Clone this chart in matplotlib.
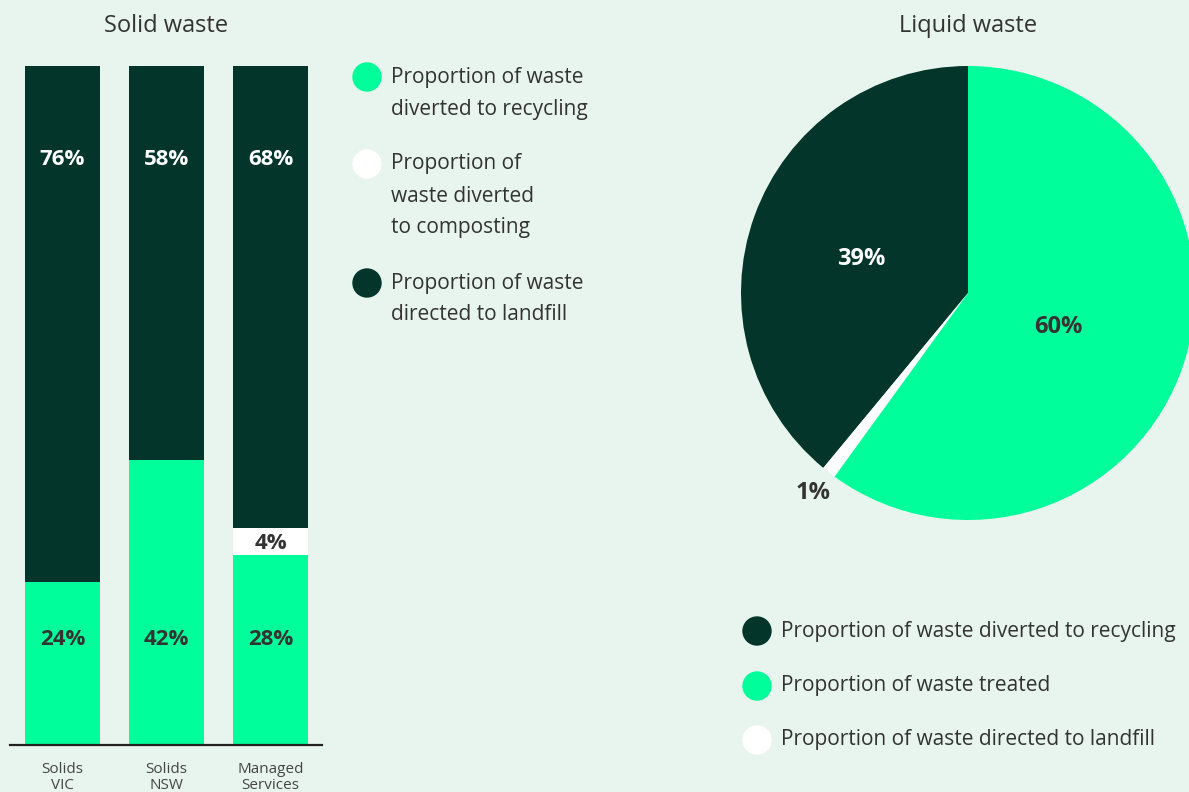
import matplotlib.pyplot as plt
from matplotlib.patches import Circle

# data
bar_cats = ["Solids\nVIC", "Solids\nNSW", "Managed\nServices"]
recycling = [24, 42, 28]
composting = [0, 0, 4]
landfill = [76, 58, 68]

pie_vals = [39, 1, 60]   # recycling (dark), landfill (white), treated (green)
pie_legend = ["Proportion of waste diverted to recycling",
              "Proportion of waste treated",
              "Proportion of waste directed to landfill"]
bar_legend = ["Proportion of waste\ndiverted to recycling",
              "Proportion of\nwaste diverted\nto composting",
              "Proportion of waste\ndirected to landfill"]

BG = "#E8F5EE"
DARK = "#03352A"
GREEN = "#00FE9A"
WHITE = "#FFFFFF"
TXT = "#333333"

plt.rcParams['font.family'] = ['Open Sans', 'DejaVu Sans']

W, H = 1189, 792
fig = plt.figure(figsize=(W / 100, H / 100), dpi=100, facecolor=BG)

def px_axes(x0, y0, x1, y1):
    # pixel box (top-left origin) -> figure axes
    return fig.add_axes([x0 / W, 1 - y1 / H, (x1 - x0) / W, (y1 - y0) / H])

# ---- bar chart ----
ax = px_axes(10, 66, 322, 745)
ax.set_facecolor(BG)
x = range(len(bar_cats))
w = 0.721
ax.bar(x, recycling, w, color=GREEN)
ax.bar(x, composting, w, bottom=recycling, color=WHITE)
bot2 = [r + c for r, c in zip(recycling, composting)]
ax.bar(x, landfill, w, bottom=bot2, color=DARK)
ax.set_xlim(-0.505, 2.495)
ax.set_ylim(0, 100)
for s in ["top", "right", "left"]:
    ax.spines[s].set_visible(False)
ax.spines["bottom"].set_color("#222222")
ax.spines["bottom"].set_linewidth(1.6)
ax.set_yticks([])
ax.set_xticks(list(x))
ax.set_xticklabels(bar_cats, fontsize=11, color="#444444", linespacing=1.15)
ax.tick_params(axis="x", length=0, pad=12)
lab_kw = dict(ha="center", va="center", fontsize=16, fontweight="bold")
for i in x:
    ax.text(i, 86.2, f"{landfill[i]}%", color="white", **lab_kw)
    ax.text(i, 15.6, f"{recycling[i]}%", color=TXT, **lab_kw)
    if composting[i]:
        ax.text(i, recycling[i] + composting[i] / 2 - 0.3, f"{composting[i]}%",
                color=TXT, **lab_kw)

# ---- pie ----
cx, cy, r = 968, 293, 227
pax = px_axes(cx - r, cy - r, cx + r, cy + r)
pax.pie(pie_vals, colors=[DARK, WHITE, GREEN], startangle=90, counterclock=True,
        radius=1, wedgeprops=dict(linewidth=0))
pax.set_xlim(-1, 1)
pax.set_ylim(-1, 1)
pax.set_aspect("equal")
pax.axis("off")

# overlay in pixel coords for titles, labels and legends
ov = fig.add_axes([0, 0, 1, 1], facecolor="none")
ov.set_xlim(0, W)
ov.set_ylim(H, 0)
ov.axis("off")

ov.text(166, 26, "Solid waste", ha="center", va="center", fontsize=17, color=TXT)
ov.text(968, 26, "Liquid waste", ha="center", va="center", fontsize=17, color=TXT)

pie_kw = dict(ha="center", va="center", fontsize=17, fontweight="bold")
ov.text(861, 259, f"{pie_vals[0]}%", color="white", **pie_kw)
ov.text(1058, 327, f"{pie_vals[2]}%", color=TXT, **pie_kw)
ov.text(813, 493, f"{pie_vals[1]}%", color=TXT, **pie_kw)

# bar legend
for (ytop, lab, col) in zip([77, 164, 283], bar_legend, [GREEN, WHITE, DARK]):
    ov.add_patch(Circle((367, ytop), 14, color=col))
    for k, line in enumerate(lab.split("\n")):
        ov.text(391, ytop + 32 * k, line, ha="left", va="center",
                fontsize=15, color=TXT)

# pie legend
for (yy, lab, col) in zip([631, 686, 740], pie_legend, [DARK, GREEN, WHITE]):
    ov.add_patch(Circle((757, yy), 14, color=col))
    ov.text(781, yy, lab, ha="left", va="center", fontsize=15, color=TXT)

fig.savefig("out.png", dpi=100, facecolor=BG)
